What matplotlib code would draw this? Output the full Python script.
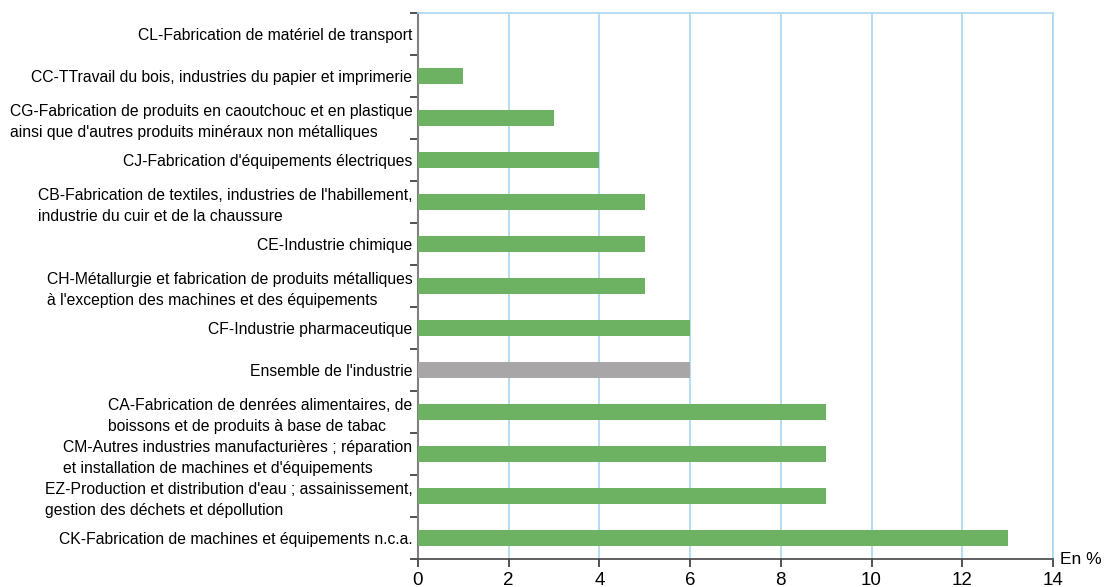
import matplotlib.pyplot as plt
import numpy as np

# Data (top to bottom as in the chart)
labels = [
    "CL-Fabrication de matériel de transport",
    "CC-TTravail du bois, industries du papier et imprimerie",
    "CG-Fabrication de produits en caoutchouc et en plastique\nainsi que d'autres produits minéraux non métalliques",
    "CJ-Fabrication d'équipements électriques",
    "CB-Fabrication de textiles, industries de l'habillement,\nindustrie du cuir et de la chaussure",
    "CE-Industrie chimique",
    "CH-Métallurgie et fabrication de produits métalliques\nà l'exception des machines et des équipements",
    "CF-Industrie pharmaceutique",
    "Ensemble de l'industrie",
    "CA-Fabrication de denrées alimentaires, de\nboissons et de produits à base de tabac",
    "CM-Autres industries manufacturières ; réparation\net installation de machines et d'équipements",
    "EZ-Production et distribution d'eau ; assainissement,\ngestion des déchets et dépollution",
    "CK-Fabrication de machines et équipements n.c.a.",
]
values = [0, 1, 3, 4, 5, 5, 5, 6, 6, 9, 9, 9, 13]
highlight = "Ensemble de l'industrie"

GREEN = "#6db163"
GREY = "#a8a6a6"
GRID = "#a9d7f0"

plt.rcParams['font.family'] = ['Liberation Sans', 'DejaVu Sans']

fig = plt.figure(figsize=(11.04, 5.87), dpi=100)
ax = fig.add_axes([0.3786, 0.0477, 0.9538 - 0.3786, 0.9779 - 0.0477])

n = len(labels)
ypos = np.arange(n)
colors = [GREY if l == highlight else GREEN for l in labels]
ax.barh(ypos, values, height=0.4, color=colors, zorder=3)

ax.set_ylim(n - 0.5, -0.5)
ax.set_xlim(0, 14)

ax.set_xticks(np.arange(0, 15, 2))
ax.tick_params(axis='x', length=6, width=1.2, color='#333333', labelsize=13.5, pad=3)
ax.xaxis.grid(True, color=GRID, lw=1.2, zorder=0)

ax.set_yticks(ypos)
ax.set_yticklabels(labels, fontsize=11.3, multialignment='left', linespacing=1.45)
ax.tick_params(axis='y', which='major', length=0, pad=4)
ax.set_yticks(np.arange(-0.5, n, 1), minor=True)
ax.tick_params(axis='y', which='minor', length=6, width=1.2, color='#333333')

ax.spines['left'].set_color('#808080')
ax.spines['left'].set_linewidth(1.5)
ax.spines['bottom'].set_color('#444444')
ax.spines['bottom'].set_linewidth(1.2)
ax.spines['top'].set_color(GRID)
ax.spines['top'].set_linewidth(1.2)
ax.spines['right'].set_color(GRID)
ax.spines['right'].set_linewidth(1.2)

fig.text(1060 / 1104, 1 - 560 / 587, "En %", fontsize=12.5, ha='left', va='center')

fig.savefig("out.png", dpi=100)
